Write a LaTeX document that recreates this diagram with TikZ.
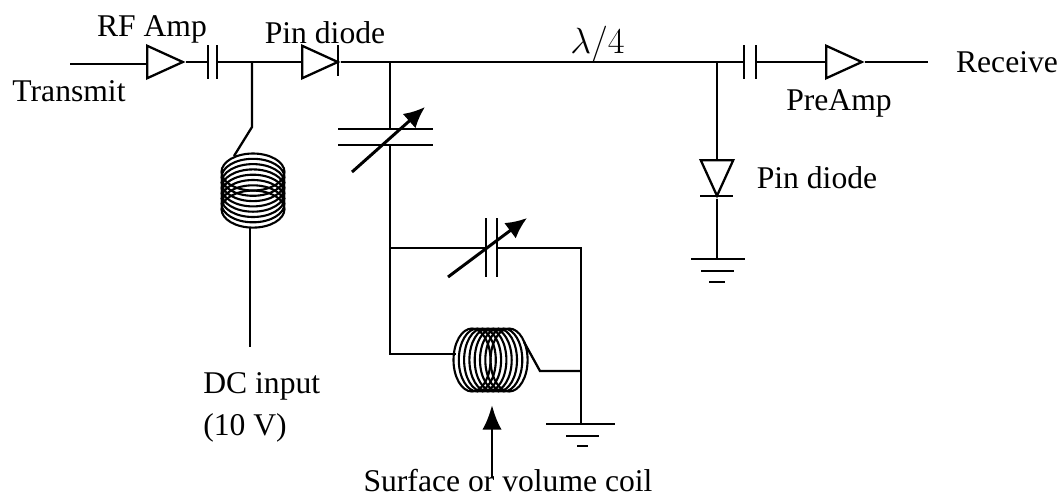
\documentclass[tikz,border=0pt]{standalone}
\usepackage{fontspec}
\setmainfont{Liberation Serif}
\usetikzlibrary{shapes.geometric,arrows.meta}
\tikzset{
  wire/.style={line width=1.3pt},
  turn/.style={line width=1.2pt},
  lbl/.style={font=\fontsize{18}{20}\selectfont, inner sep=0pt, anchor=base},
  tune/.style={line width=1.7pt, -{Latex[length=12pt,width=11pt]}},
  amp/.style={draw, line width=1.3pt, isosceles triangle, isosceles triangle stretches, minimum height=20.3pt, minimum width=18.5pt, inner sep=0pt, anchor=lower side},
}
\begin{document}
\begin{tikzpicture}[x=0.02cm,y=-0.02cm]
\useasboundingbox (0,0) rectangle (1062,495);
\node[amp] (rfamp) at (146,62){};
\node[amp] (pindiode) at (301,62){};
\node[amp] (preamp) at (825,62){};
\node[amp, shape border rotate=-90] (shuntdiode) at (717,159){};
\coordinate (txin) at (70,64);
\coordinate (txamp) at (146,64);
\coordinate (c1a) at (208,62);
\coordinate (c1b) at (217,62);
\coordinate (dcjoin) at (252,62);
\coordinate (tunejoin) at (390,62);
\coordinate (shuntjoin) at (717,62);
\coordinate (c2a) at (744,62);
\coordinate (c2b) at (756,62);
\coordinate (rxout) at (928,62);
\draw[wire] (txin) -- (txamp);
\draw[wire] (rfamp.apex) -- (c1a);
\draw[wire] (c1b) -- (pindiode.lower side);
\draw[wire] (pindiode.apex) -- (c2a);
\draw[wire] (c2b) -- (preamp.lower side);
\draw[wire] (preamp.apex) -- (rxout);
\draw[wire] (208,45) -- (208,79);
\draw[wire] (217,45) -- (217,79);
\draw[wire] (338,45) -- (338,76);
\draw[wire] (744,45) -- (744,79);
\draw[wire] (756,45) -- (756,79);
% choke
\coordinate (dcbend) at (252,127);
\coordinate (dctop) at (234,156);
\coordinate (dcbot) at (250,228);
\coordinate (dcend) at (250,347);
\draw[wire] (dcjoin) -- (dcbend) -- (dctop);
\draw[wire] (dcbot) -- (dcend);
\foreach \yc in {172,177.3,...,209.5}
  \draw[turn] (253,\yc) ellipse [x radius=31.5, y radius=18.5];
% series tuning capacitor
\coordinate (ct1) at (390,129);
\coordinate (ct2) at (390,145);
\coordinate (matchjoin) at (390,248);
\coordinate (coilleft) at (390,354);
\coordinate (coilin) at (456,354);
\draw[wire] (tunejoin) -- (ct1);
\draw[wire] (ct2) -- (matchjoin) -- (coilleft) -- (coilin);
\draw[wire] (338,129) -- (433,129);
\draw[wire] (338,145) -- (433,145);
\draw[tune] (352,172) -- (425,107);
% parallel matching capacitor
\coordinate (cm1) at (486,248);
\coordinate (cm2) at (497,248);
\coordinate (rightjoin) at (581,248);
\coordinate (rightlead) at (581,371);
\coordinate (gnd1) at (581,424);
\draw[wire] (matchjoin) -- (cm1);
\draw[wire] (cm2) -- (rightjoin) -- (rightlead) -- (gnd1);
\draw[wire] (486,218) -- (486,277);
\draw[wire] (497,218) -- (497,277);
\draw[tune] (448,277) -- (527,218);
% coil
\foreach \xc in {472,477.3,...,509.5}
  \draw[turn] (\xc,360) ellipse [x radius=18.5, y radius=31.5];
\coordinate (coilout) at (524,342);
\coordinate (coilbend) at (540,371);
\draw[wire] (coilout) -- (coilbend) -- (rightlead);
\draw[wire] (546,424) -- (615,424);
\draw[wire] (566,436) -- (599,436);
\draw[wire] (577,446) -- (588,446);
% shunt diode
\coordinate (gnd2) at (717,259);
\draw[wire] (shuntjoin) -- (shuntdiode.lower side);
\draw[wire] (shuntdiode.apex) -- (gnd2);
\draw[wire] (700,196) -- (733,196);
\draw[wire] (691,259) -- (745,259);
\draw[wire] (701,271) -- (734,271);
\draw[wire] (709,282) -- (725,282);
% labels
\node[lbl] (rflabel) at (152,36) {RF Amp};
\node[lbl] (pinlabel) at (325,43) {Pin diode};
\node[lbl] (txlabel) at (69,101) {Transmit};
\node[lbl, font=\fontsize{20}{22}\selectfont] (lamlabel) at (597.5,53) {$\lambda/4$};
\node[lbl] (rxlabel) at (1007,72) {Receive};
\node[lbl] (prelabel) at (839,110) {PreAmp};
\node[lbl] (pin2label) at (817,188) {Pin diode};
\node[lbl, anchor=base west] (dclabel) at (203,393) {DC input};
\node[lbl, anchor=base west] (vlabel) at (203,435) {(10 V)};
\node[lbl] (coillabel) at (508,491) {Surface or volume coil};
\coordinate (coilarrow) at (492,405);
\draw[tune, -{Latex[length=14pt,width=11pt]}] (492,478) -- (coilarrow);
\end{tikzpicture}
\end{document}
